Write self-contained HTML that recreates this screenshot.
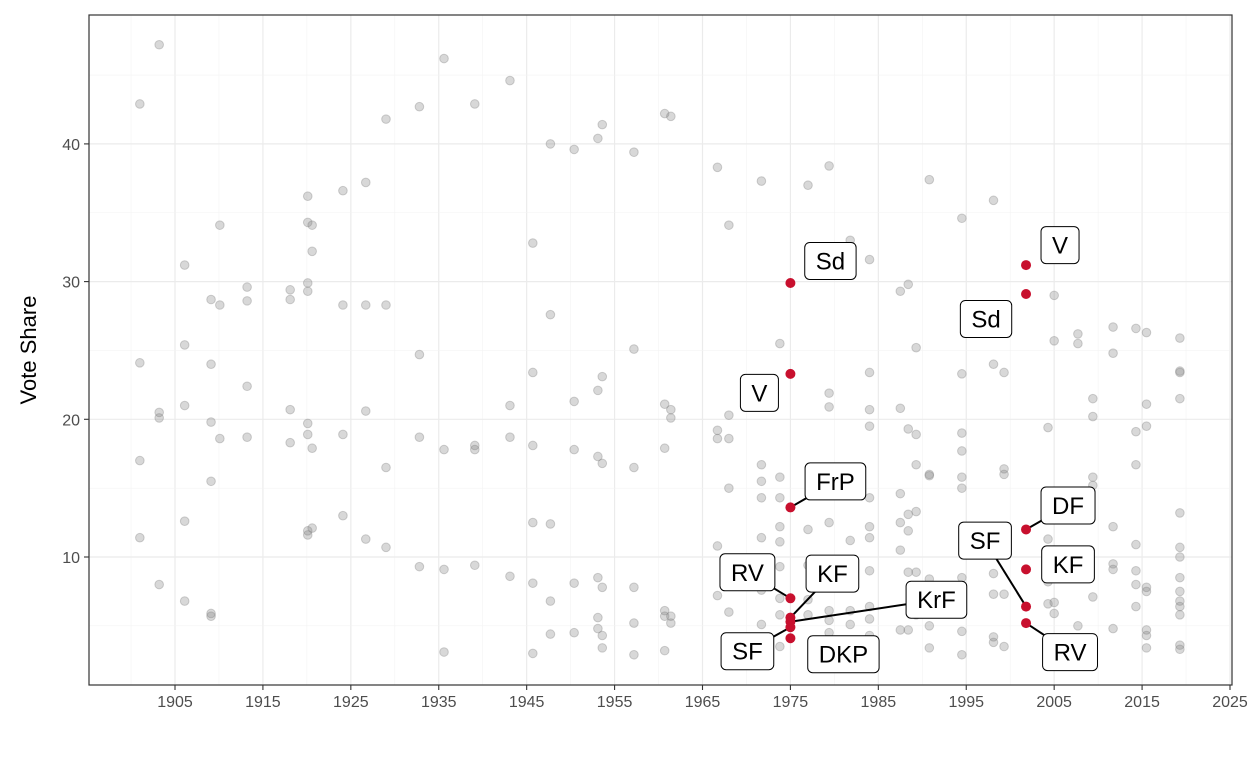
<!DOCTYPE html>
<html><head><meta charset="utf-8"><style>
html,body{margin:0;padding:0;background:#fff}
svg{display:block;font-family:"Liberation Sans",Arial,sans-serif}
</style></head><body>
<svg id="chart" width="1248" height="768"></svg>
<script>
const elections = [
[1901.0,[24.1,17.0,11.4,42.9]],
[1903.2,[20.5,20.1,8.0,47.2]],
[1906.1,[31.2,25.4,21.0,12.6,6.8]],
[1909.1,[28.7,24.0,19.8,15.5,5.9,5.7]],
[1910.1,[34.1,28.3,18.6]],
[1913.2,[29.6,28.6,22.4,18.7]],
[1918.1,[29.4,28.7,20.7,18.3]],
[1920.1,[36.2,34.3,29.9,29.3,19.7,18.9,11.9,11.6]],
[1920.6,[34.1,32.2,17.9,12.1]],
[1924.1,[36.6,28.3,18.9,13.0]],
[1926.7,[37.2,28.3,20.6,11.3]],
[1929.0,[41.8,28.3,16.5,10.7]],
[1932.8,[42.7,24.7,18.7,9.3]],
[1935.6,[46.2,17.8,9.1,3.1]],
[1939.1,[42.9,18.1,17.8,9.4]],
[1943.1,[44.6,21.0,18.7,8.6]],
[1945.7,[32.8,23.4,18.1,12.5,8.1,3.0]],
[1947.7,[40.0,27.6,12.4,6.8,4.4]],
[1950.4,[39.6,21.3,17.8,8.1,4.5]],
[1953.1,[40.4,22.1,17.3,8.5,5.6,4.8]],
[1953.6,[41.4,23.1,16.8,7.8,4.3,3.4]],
[1957.2,[39.4,25.1,16.5,7.8,5.2,2.9]],
[1960.7,[42.2,21.1,17.9,6.1,5.7,3.2]],
[1961.4,[42.0,20.7,20.1,5.7,5.2]],
[1966.7,[38.3,19.2,18.6,10.8,7.2]],
[1968.0,[34.1,20.3,18.6,15.0,6.0]],
[1971.7,[37.3,16.7,15.5,14.3,11.4,7.6,5.1]],
[1973.8,[25.5,15.8,14.3,12.2,11.1,9.3,7.0,5.8,3.5]],
[1977.0,[37.0,12.0,9.4,6.9,5.8]],
[1979.4,[38.4,21.9,20.9,15.9,12.5,6.1,5.4,4.5]],
[1981.8,[33.0,11.2,6.1,5.1]],
[1984.0,[31.6,23.4,20.7,19.5,14.3,12.2,11.4,9.0,6.4,5.5,4.3]],
[1987.5,[29.3,20.8,14.6,12.5,10.5,4.7]],
[1988.4,[29.8,19.3,13.1,11.9,8.9,4.7]],
[1989.3,[25.2,18.9,16.7,13.3,8.9,5.8]],
[1990.8,[37.4,16.0,15.9,8.4,5.0,3.4]],
[1994.5,[34.6,23.3,19.0,17.7,15.8,15.0,8.5,4.6,2.9]],
[1998.1,[35.9,24.0,8.8,7.3,4.2,3.8]],
[1999.3,[23.4,16.4,16.0,7.3,3.5]],
[2004.3,[19.4,11.3,8.2,6.6]],
[2005.0,[29.0,25.7,9.5,6.7,5.9]],
[2007.7,[26.2,25.5,5.0]],
[2009.4,[21.5,20.2,15.8,15.2,7.1]],
[2011.7,[26.7,24.8,12.2,9.5,9.1,4.8]],
[2014.3,[26.6,19.1,16.7,10.9,9.0,8.0,6.4]],
[2015.5,[26.3,21.1,19.5,7.8,7.5,4.7,4.3,3.4]],
[2019.3,[25.9,23.5,23.4,21.5,13.2,10.7,10.0,8.5,7.5,6.8,6.4,5.8,3.6,3.3]]
];
const redYears = [1975,1975,1975,1975,1975,1975,1975,1975,2001.8,2001.8,2001.8,2001.8,2001.8,2001.8];
const redValues = [29.9,23.3,13.6,7.0,5.6,5.3,4.9,4.1,31.2,29.1,12.0,9.1,6.4,5.2];
const redLabels = ["Sd","V","FrP","RV","KF","KrF","SF","DKP","V","Sd","DF","KF","SF","RV"];
const labelDx = [40,-31,45,-43,42,146,-43,53,34,-40,42,42,-41,44];
const labelDy = [-22,19,-26,-26,-44,-22,24,16,-20,25,-24,-5,-66,29];
const labelLine = [0,0,1,1,1,1,1,0,0,0,1,0,1,1];
const xTicks = [1905,1915,1925,1935,1945,1955,1965,1975,1985,1995,2005,2015,2025];
const yTicks = [10,20,30,40];

const NS="http://www.w3.org/2000/svg";
const svg=document.getElementById('chart');
const L=89,R=1232,T=15,B=685;
const xs=v=>175+(v-1905)*(1055/120);
const ys=v=>694.7-v*13.77;
function el(tag,attrs,parent){const e=document.createElementNS(NS,tag);for(const k in attrs)e.setAttribute(k,attrs[k]);(parent||svg).appendChild(e);return e;}

const grid=el('g',{});


for(let v=1895;v<=2030;v+=5){const x=xs(v);if(x<L||x>R)continue;const major=(v-1905)%10===0;
 el('line',{x1:x,x2:x,y1:T,y2:B,stroke:major?'#ebebeb':'#f3f3f3','stroke-width':major?1.2:0.6},grid);}
for(let v=5;v<=45;v+=5){const y=ys(v);const major=v%10===0;
 el('line',{x1:L,x2:R,y1:y,y2:y,stroke:major?'#ebebeb':'#f3f3f3','stroke-width':major?1.2:0.6},grid);}

const gp=el('g',{});


elections.forEach(([yr,vals])=>vals.forEach(v=>{
 const c=el('circle',{cx:xs(yr),cy:ys(v),r:4.3,fill:'#7f7f7f','fill-opacity':0.3,stroke:'#7f7f7f','stroke-opacity':0.35},gp);
 
 
}));

const lg=el('g',{});


redValues.forEach((v,i)=>{
 if(!labelLine[i])return;
 const px=xs(redYears[i]),py=ys(v);
 el('line',{x1:px,y1:py,x2:px+labelDx[i],y2:py+labelDy[i],stroke:'#000','stroke-width':2},lg);
});
redValues.forEach((v,i)=>{
 const c=el('circle',{cx:xs(redYears[i]),cy:ys(v),r:5,fill:'#c8102e'});
 
 
});
redValues.forEach((v,i)=>{
 const px=xs(redYears[i]),py=ys(v);
 const bx=px+labelDx[i],by=py+labelDy[i];
 const g=el('g',{},lg);
 
 
 const r=el('rect',{fill:'#fff',stroke:'#000','stroke-width':1,rx:5},g);
 const t=el('text',{x:bx,y:by+8.5,'text-anchor':'middle','font-size':24,fill:'#000'},g);
 t.textContent=redLabels[i];
 const w=t.getComputedTextLength()+22,h=37;
 r.setAttribute('x',bx-w/2);r.setAttribute('y',by-h/2);
 r.setAttribute('width',w);r.setAttribute('height',h);
});

const border=el('rect',{x:L,y:T,width:R-L,height:B-T,fill:'none',stroke:'#333','stroke-width':1.2});



const xa=el('g',{});


xTicks.forEach(v=>{const x=xs(v);
 el('line',{x1:x,x2:x,y1:B,y2:B+5,stroke:'#333','stroke-width':1.1},xa);
 const t=el('text',{x:x,y:B+22,'text-anchor':'middle','font-size':16,fill:'#4d4d4d'},xa);t.textContent=v;});
const ya=el('g',{});


yTicks.forEach(v=>{const y=ys(v);
 el('line',{x1:L-5,x2:L,y1:y,y2:y,stroke:'#333','stroke-width':1.1},ya);
 const t=el('text',{x:L-9,y:y+6,'text-anchor':'end','font-size':16,fill:'#4d4d4d'},ya);t.textContent=v;});
const yt=el('text',{x:0,y:0,transform:'translate(36,350) rotate(-90)','text-anchor':'middle','font-size':22,fill:'#000'});
yt.textContent='Vote Share';


</script>
</body></html>
